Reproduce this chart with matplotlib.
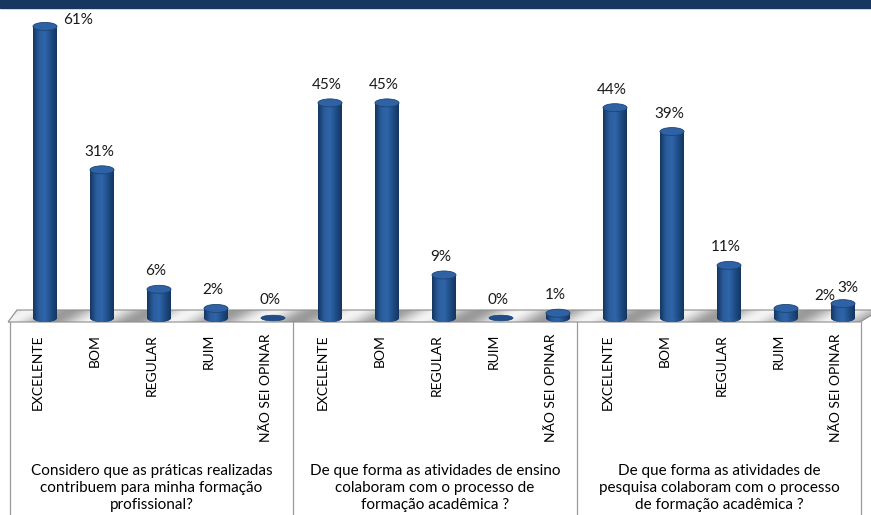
import matplotlib.pyplot as plt
import numpy as np
from matplotlib.patches import Rectangle, Ellipse, Polygon
from matplotlib.colors import LinearSegmentedColormap

plt.rcParams["font.family"] = ["Lato", "DejaVu Sans"]

categories = ["EXCELENTE", "BOM", "REGULAR", "RUIM", "NÃO SEI OPINAR"]
questions = [
    "Considero que as práticas realizadas\ncontribuem para minha formação\nprofissional?",
    "De que forma as atividades de ensino\ncolaboram com o processo de\nformação acadêmica ?",
    "De que forma as atividades de\npesquisa colaboram com o processo\nde formação acadêmica ?",
]
praticas = [61, 31, 6, 2, 0]
ensino = [45, 45, 9, 0, 1]
pesquisa = [44, 39, 11, 2, 3]

values = praticas + ensino + pesquisa
labels = categories * 3

# pixel -> data helpers (one category = 57 px, 1 % = 4.78 px, floor at y=318 px)
W, H = 871, 515
PX_X, X0 = 57.0, 45.0
PX_Y, Y0 = 4.78, 318.0


def dx(px):
    return (px - X0) / PX_X


def dy(py):
    return (Y0 - py) / PX_Y


fig = plt.figure(figsize=(W / 100, H / 100), dpi=100)
ax = fig.add_axes([0, 0, 1, 1])
ax.set_xlim(dx(0), dx(W))
ax.set_ylim(dy(H), dy(0))
ax.axis("off")

# top band
ax.add_patch(Rectangle((dx(0), dy(8)), dx(W) - dx(0), dy(0) - dy(8),
                       color="#17375E", zorder=5))

# floor with metallic streaks
floor = Polygon([(dx(8), dy(322)), (dx(17), dy(310)), (dx(880), dy(310)),
                 (dx(860), dy(322))], closed=True, facecolor="none",
                edgecolor="#8C8C8C", lw=0.8, zorder=2)
ax.add_patch(floor)
xx, yy = np.meshgrid(np.linspace(0, 1, 600), np.linspace(0, 1, 20))
streak = 0.5 + 0.5 * np.sin((xx * 600 + yy * 14) / 9.0)
fcmap = LinearSegmentedColormap.from_list("floor", ["#9A9A9A", "#C8C8C8", "#F4F4F4"])
im = ax.imshow(streak, cmap=fcmap, extent=(dx(8), dx(880), dy(322), dy(310)),
               aspect="auto", zorder=1.5, interpolation="bilinear")
im.set_clip_path(floor)

# separators in the label area
for px in [10, 293, 577, 861]:
    ax.plot([dx(px), dx(px)], [dy(322), dy(H)], color="#9A9A9A", lw=0.9, zorder=2)

# cylinders
bw = 24 / PX_X
eh = 8 / PX_Y
body_cmap = LinearSegmentedColormap.from_list(
    "body", ["#14365F", "#2A5C9C", "#2F66AA", "#1F4D88", "#14365F"])
grad = np.linspace(0, 1, 64).reshape(1, -1)

for i, v in enumerate(values):
    if v > 0:
        bot = Ellipse((i, 0), bw, eh, facecolor="#1B4478", edgecolor="none", zorder=3)
        ax.add_patch(bot)
        body = Rectangle((i - bw / 2, 0), bw, v, facecolor="none", edgecolor="none", zorder=3)
        ax.add_patch(body)
        g = ax.imshow(grad, cmap=body_cmap, extent=(i - bw / 2, i + bw / 2, 0, v),
                      aspect="auto", zorder=3.1, interpolation="bilinear")
        g.set_clip_path(body)
        g2 = ax.imshow(grad, cmap=body_cmap, extent=(i - bw / 2, i + bw / 2, -eh / 2, 0),
                       aspect="auto", zorder=3.05, interpolation="bilinear")
        g2.set_clip_path(bot)
        ax.add_patch(Ellipse((i, v), bw, eh, facecolor="#2F62A4",
                             edgecolor="#1B4478", lw=0.6, zorder=3.2))
    else:
        ax.add_patch(Ellipse((i, 0), bw, eh * 0.7, facecolor="#1F4E8A",
                             edgecolor="#163C6A", lw=0.5, zorder=3.2))

# data labels (pixel offsets for the few that Excel moved)
label_shift = {0: (33, -12), 13: (39, -6), 14: (5, -2)}
for i, v in enumerate(values):
    ox, oy = label_shift.get(i, (-3, 0))
    ax.text(i + ox / PX_X, v + (18 + oy) / PX_Y, f"{v}%", ha="center", va="center",
            fontsize=11, color="#1A1A1A", zorder=6)

# category labels
for i, lab in enumerate(labels):
    ax.text(i - 7 / PX_X, dy(334), lab, rotation=90, ha="center", va="top",
            fontsize=10, color="black", zorder=6)

# question labels
for k, q in enumerate(questions):
    cx = dx([151.5, 435, 719][k])
    ax.text(cx, dy(488), q, ha="center", va="center", fontsize=11,
            linespacing=1.3, color="black", zorder=6)

fig.savefig("out.png", dpi=100)
